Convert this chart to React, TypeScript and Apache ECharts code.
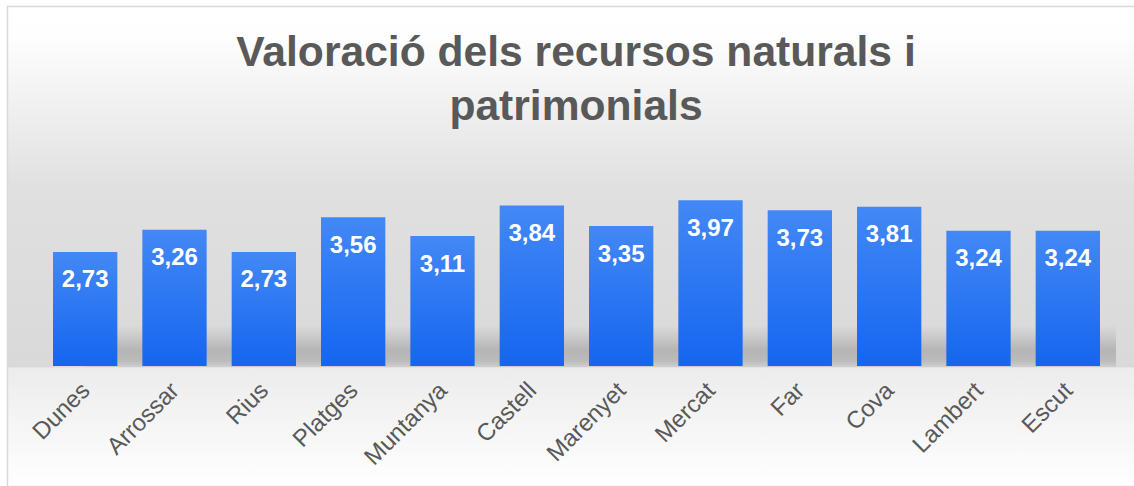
import React, { useEffect, useRef } from "react";
import * as echarts from "echarts";

const categories = [
  "Dunes", "Arrossar", "Rius", "Platges", "Muntanya", "Castell",
  "Marenyet", "Mercat", "Far", "Cova", "Lambert", "Escut",
];
const values = [2.73, 3.26, 2.73, 3.56, 3.11, 3.84, 3.35, 3.97, 3.73, 3.81, 3.24, 3.24];
const titleText = "Valoració dels recursos naturals i\npatrimonials";

const FONT = "'Liberation Sans', Arial, sans-serif";

export default function App() {
  const ref = useRef<HTMLDivElement>(null);
  useEffect(() => {
    if (!ref.current) return;
    const chart = echarts.init(ref.current, undefined, { renderer: "svg" });
    chart.setOption({
      animation: false,
      backgroundColor: "#ffffff",
      title: {
        text: titleText,
        left: 576,
        top: 24,
        padding: 0,
        textAlign: "center",
        textStyle: {
          fontFamily: FONT,
          fontSize: 42.6,
          fontWeight: "bold",
          color: "#595959",
          lineHeight: 54,
        },
      },
      graphic: [
        {
          type: "rect",
          z: -10,
          silent: true,
          shape: { x: 7.5, y: 6.5, width: 1140, height: 480 },
          style: {
            stroke: "#d9d9d9",
            lineWidth: 1.5,
            fill: new echarts.graphic.LinearGradient(0, 0, 0, 1, [
              { offset: 0, color: "#ffffff" },
              { offset: 0.06, color: "#fefefe" },
              { offset: 0.38, color: "#e0e0e0" },
              { offset: 0.75, color: "#d9d9d9" },
              { offset: 0.7535, color: "#ececec" },
              { offset: 1, color: "#ffffff" },
            ]),
          },
        },
        {
          type: "rect",
          z: -9,
          silent: true,
          shape: { x: 85, y: 325, width: 1031, height: 42 },
          style: {
            fill: new echarts.graphic.LinearGradient(0, 0, 0, 1, [
              { offset: 0, color: "rgba(0,0,0,0)" },
              { offset: 0.3, color: "rgba(0,0,0,0.08)" },
              { offset: 0.6, color: "rgba(0,0,0,0.17)" },
              { offset: 0.85, color: "rgba(0,0,0,0.14)" },
              { offset: 1, color: "rgba(0,0,0,0.05)" },
            ]),
          },
        },
      ],
      grid: { left: 40.5, right: 21.5, top: 178, bottom: 120, containLabel: false },
      xAxis: {
        type: "category",
        data: categories,
        axisLine: { show: false },
        axisTick: { show: false },
        splitLine: { show: false },
        axisLabel: {
          interval: 0,
          rotate: 45,
          margin: 20,
          fontFamily: FONT,
          fontSize: 24,
          color: "#595959",
        },
      },
      yAxis: { type: "value", min: 0, max: 4.5, show: false },
      series: [
        {
          type: "bar",
          data: values,
          barCategoryGap: "28%",
          itemStyle: {
            color: new echarts.graphic.LinearGradient(0, 0, 0, 1, [
              { offset: 0, color: "#4388f5" },
              { offset: 1, color: "#1565ef" },
            ]),
          },
          label: {
            show: true,
            position: "insideTop",
            distance: 15,
            color: "#ffffff",
            fontFamily: FONT,
            fontSize: 24,
            fontWeight: "bold",
            formatter: (p: any) => Number(p.value).toFixed(2).replace(".", ","),
          },
        },
      ],
    });
    return () => chart.dispose();
  }, []);
  return (
    <div
      ref={ref}
      style={{ position: "absolute", left: 0, top: 0, width: 1134, height: 486 }}
    />
  );
}
